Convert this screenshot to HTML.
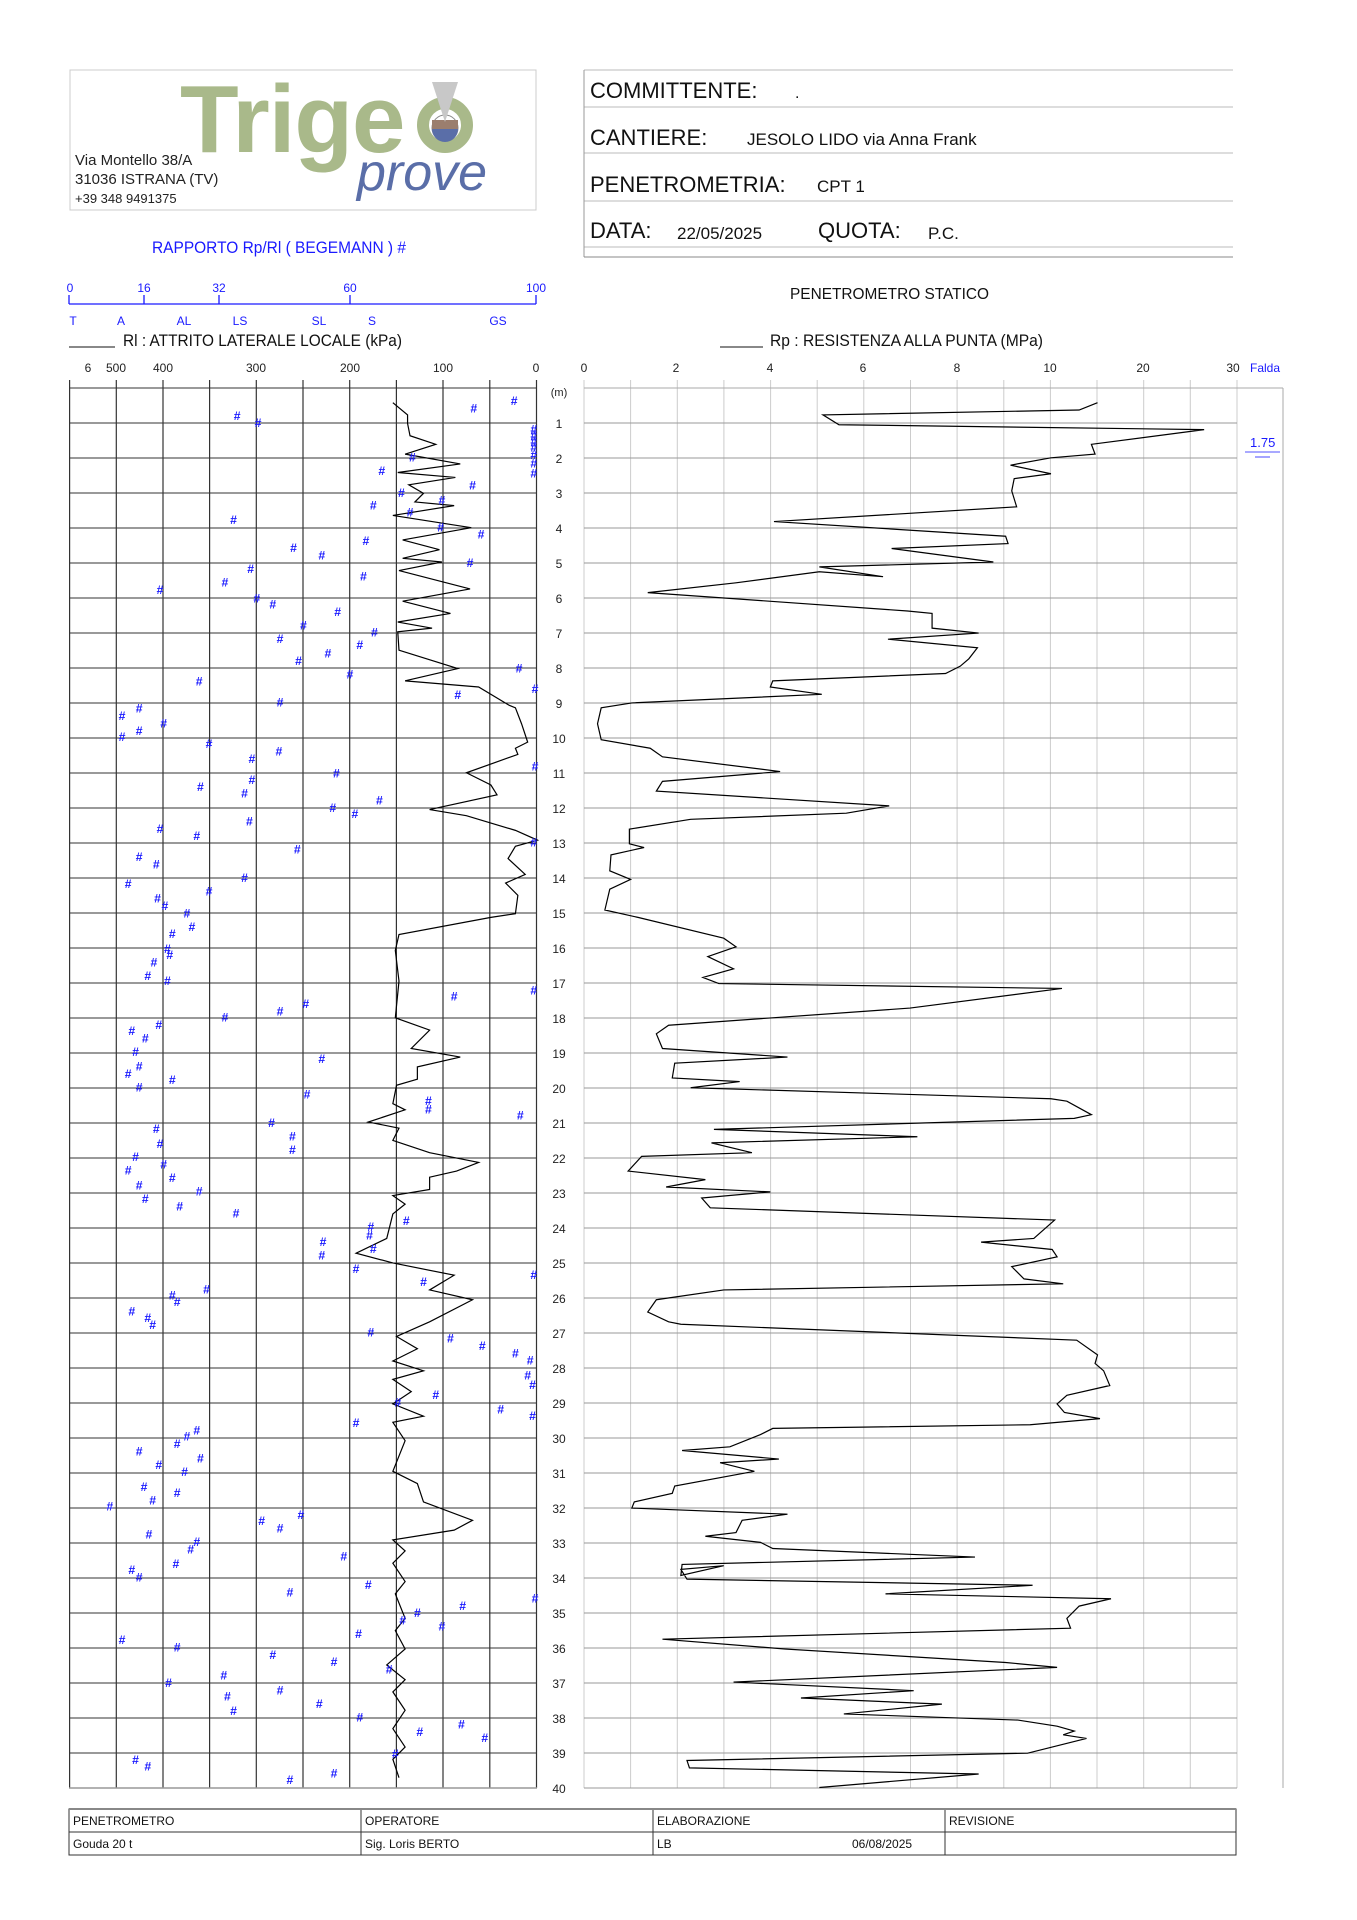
<!DOCTYPE html>
<html><head><meta charset="utf-8"><style>
html,body{margin:0;padding:0;background:#fff;}
svg{display:block;}
text{font-family:"Liberation Sans Narrow","Liberation Sans",sans-serif;}
.n{font-size:12px;fill:#222;}
.b{fill:#1a1aff;}
.h{font-family:"Liberation Sans",sans-serif;font-size:10px;fill:#1a1aff;font-weight:bold;}
</style></head><body>
<svg width="1357" height="1920" viewBox="0 0 1357 1920" xmlns="http://www.w3.org/2000/svg">
<!-- logo box -->
<rect x="70" y="70" width="466" height="140" fill="none" stroke="#ccc" stroke-width="1"/>
<text x="180" y="152" style="font-family:'Liberation Sans',sans-serif;font-weight:bold;font-size:96px;fill:#a9b98a;letter-spacing:-1px">Trige</text>
<circle cx="445" cy="125" r="22" fill="none" stroke="#a9b98a" stroke-width="12"/>
<circle cx="445" cy="128" r="13" fill="#fff" stroke="#888" stroke-width="1"/>
<path d="M432,129 A13,13 0 0 0 458,129 Z" fill="#5a6ea8"/>
<rect x="432" y="120" width="26" height="9" fill="#9b7e6e"/>
<polygon points="432,82 458,82 445,122" fill="#c8c8c8"/>
<text x="357" y="190" style="font-family:'Liberation Sans',sans-serif;font-style:italic;font-size:52px;fill:#5a6ea8">prove</text>
<text x="75" y="165" style="font-family:'Liberation Sans',sans-serif;font-size:15px;fill:#222">Via Montello 38/A</text>
<text x="75" y="184" style="font-family:'Liberation Sans',sans-serif;font-size:15px;fill:#222">31036 ISTRANA (TV)</text>
<text x="75" y="203" style="font-family:'Liberation Sans',sans-serif;font-size:13px;fill:#222">+39 348 9491375</text>

<!-- header box right -->
<g stroke="#bbb" stroke-width="1">
<line x1="584" y1="70" x2="1233" y2="70"/>
<line x1="584" y1="107" x2="1233" y2="107"/>
<line x1="584" y1="153" x2="1233" y2="153"/>
<line x1="584" y1="201" x2="1233" y2="201"/>
<line x1="584" y1="247" x2="1233" y2="247"/>
</g>
<line x1="584" y1="70" x2="584" y2="257" stroke="#999"/>
<line x1="584" y1="257" x2="1233" y2="257" stroke="#888"/>
<g style="font-family:'Liberation Sans',sans-serif;fill:#111">
<text x="590" y="98" font-size="22">COMMITTENTE:</text>
<text x="795" y="98" font-size="16">.</text>
<text x="590" y="145" font-size="22">CANTIERE:</text>
<text x="747" y="145" font-size="17">JESOLO LIDO via Anna Frank</text>
<text x="590" y="192" font-size="22">PENETROMETRIA:</text>
<text x="817" y="192" font-size="17">CPT 1</text>
<text x="590" y="238" font-size="22">DATA:</text>
<text x="677" y="239" font-size="17">22/05/2025</text>
<text x="818" y="238" font-size="22">QUOTA:</text>
<text x="928" y="239" font-size="17">P.C.</text>
</g>

<!-- titles -->
<text x="152" y="253" font-size="17" class="b" textLength="254" lengthAdjust="spacingAndGlyphs">RAPPORTO Rp/Rl ( BEGEMANN ) #</text>
<text x="790" y="299" font-size="16" fill="#111" textLength="199" lengthAdjust="spacingAndGlyphs">PENETROMETRO STATICO</text>
<line x1="69" y1="347" x2="115" y2="347" stroke="#111"/>
<text x="123" y="346" font-size="17" fill="#111" textLength="279" lengthAdjust="spacingAndGlyphs">Rl : ATTRITO LATERALE LOCALE (kPa)</text>
<line x1="720" y1="347" x2="763" y2="347" stroke="#111"/>
<text x="770" y="346" font-size="17" fill="#111" textLength="273" lengthAdjust="spacingAndGlyphs">Rp : RESISTENZA ALLA PUNTA (MPa)</text>

<!-- begemann scale -->
<g stroke="#1a1aff" stroke-width="1.3">
<line x1="69" y1="304" x2="536" y2="304"/>
<line x1="69" y1="295" x2="69" y2="304"/><line x1="144" y1="295" x2="144" y2="304"/>
<line x1="219" y1="295" x2="219" y2="304"/><line x1="350" y1="295" x2="350" y2="304"/>
<line x1="536" y1="295" x2="536" y2="304"/>
</g>
<g font-size="12" class="b" text-anchor="middle">
<text x="70" y="292">0</text><text x="144" y="292">16</text><text x="219" y="292">32</text><text x="350" y="292">60</text><text x="536" y="292">100</text>
<text x="73" y="325">T</text><text x="121" y="325">A</text><text x="184" y="325">AL</text><text x="240" y="325">LS</text><text x="319" y="325">SL</text><text x="372" y="325">S</text><text x="498" y="325">GS</text>
</g>

<!-- axis labels -->
<g class="n" text-anchor="middle">
<text x="88" y="372">6</text><text x="116" y="372">500</text><text x="163" y="372">400</text><text x="256" y="372">300</text><text x="350" y="372">200</text><text x="443" y="372">100</text><text x="536" y="372">0</text>
<text x="584" y="372">0</text><text x="676" y="372">2</text><text x="770" y="372">4</text><text x="863" y="372">6</text><text x="957" y="372">8</text><text x="1050" y="372">10</text><text x="1143" y="372">20</text><text x="1233" y="372">30</text>
</g>
<text x="1250" y="372" font-size="12" class="b">Falda</text>
<text x="1250" y="447" font-size="13" class="b">1.75</text>
<line x1="1245" y1="452" x2="1280" y2="452" stroke="#1a1aff" stroke-width="0.8"/>
<line x1="1255" y1="457" x2="1270" y2="457" stroke="#1a1aff" stroke-width="0.8"/>

<!-- grids -->
<g id="grid">
<g stroke="#333" stroke-width="1.2">
<line x1="69.6" y1="380" x2="69.6" y2="1788"/><line x1="116.3" y1="380" x2="116.3" y2="1788"/><line x1="163" y1="380" x2="163" y2="1788"/><line x1="209.6" y1="380" x2="209.6" y2="1788"/><line x1="256.3" y1="380" x2="256.3" y2="1788"/><line x1="303" y1="380" x2="303" y2="1788"/><line x1="349.7" y1="380" x2="349.7" y2="1788"/><line x1="396.4" y1="380" x2="396.4" y2="1788"/><line x1="443" y1="380" x2="443" y2="1788"/><line x1="489.8" y1="380" x2="489.8" y2="1788"/><line x1="536.5" y1="380" x2="536.5" y2="1788"/>
</g>
<g stroke="#ccc" stroke-width="1">
<line x1="584" y1="380" x2="584" y2="1788"/><line x1="630.6" y1="380" x2="630.6" y2="1788"/><line x1="677.3" y1="380" x2="677.3" y2="1788"/><line x1="723.9" y1="380" x2="723.9" y2="1788"/><line x1="770.6" y1="380" x2="770.6" y2="1788"/><line x1="817.2" y1="380" x2="817.2" y2="1788"/><line x1="863.8" y1="380" x2="863.8" y2="1788"/><line x1="910.5" y1="380" x2="910.5" y2="1788"/><line x1="957.1" y1="380" x2="957.1" y2="1788"/><line x1="1003.8" y1="380" x2="1003.8" y2="1788"/><line x1="1050.4" y1="380" x2="1050.4" y2="1788"/><line x1="1097" y1="380" x2="1097" y2="1788"/><line x1="1143.7" y1="380" x2="1143.7" y2="1788"/><line x1="1190.3" y1="380" x2="1190.3" y2="1788"/><line x1="1237" y1="380" x2="1237" y2="1788"/>
</g>
<line x1="1283" y1="388" x2="1283" y2="1788" stroke="#aaa"/>
<line x1="1237" y1="388" x2="1283" y2="388" stroke="#aaa"/>
</g>
<g id="hl"></g>
<line x1="69" y1="1788" x2="537" y2="1788" stroke="#999" stroke-width="1.5"/>

<!-- depth labels -->
<g class="n" text-anchor="middle" id="dl">
<text x="559" y="396" font-size="11">(m)</text>
</g>

<!-- data (drawn in overview coords) -->
<g transform="translate(0.7,0.7) scale(1.2255)">
<polyline fill="none" stroke="#000" stroke-width="1.2" vector-effect="non-scaling-stroke" points="895,328 880,334 671,338 684,346 982,350 890,362 893,370 857,373 824,379 857,386 827,390 825,400 829,413 631,425 820,437 822,443 727,447 810,458 668,462 720,470 668,466 600,475 528,483 740,498 760,500 760,512 798,516 724,521 797,528 790,537 783,543 771,549 630,555 628,560 670,566 515,573 490,577 487,590 490,603 530,610 540,617 636,629 540,637 535,645 725,657 690,663 563,668 513,676 513,688 525,691 498,697 497,710 514,717 497,725 493,742 520,748 590,765 600,772 577,780 598,790 573,797 586,802 866,806 742,822 545,836 535,843 540,855 642,862 550,867 548,879 603,882 563,887 857,896 870,898 890,909 876,912 582,921 748,927 580,932 613,940 523,943 512,955 575,962 543,968 628,972 572,977 579,985 860,995 843,1010 800,1013 858,1019 862,1025 825,1033 835,1043 867,1047 590,1052 535,1060 528,1070 545,1078 555,1080 878,1093 895,1105 893,1112 900,1118 905,1130 870,1138 862,1145 868,1152 897,1157 840,1162 630,1165 620,1170 595,1180 556,1183 635,1190 587,1193 615,1200 550,1212 548,1218 517,1225 515,1230 642,1235 605,1240 600,1250 575,1253 620,1258 630,1263 795,1270 556,1276 555,1285 590,1277 555,1280 560,1288 842,1293 722,1300 906,1304 880,1310 870,1320 873,1328 540,1337 640,1345 820,1356 862,1360 598,1372 745,1379 653,1385 768,1390 688,1398 830,1403 862,1408 876,1412 867,1415 886,1418 838,1430 560,1436 562,1442 798,1447 668,1458"/>
<polyline fill="none" stroke="#000" stroke-width="1.2" vector-effect="non-scaling-stroke" points="320,328 332,338 332,345 334,355 355,362 330,370 375,378 324,385 371,389 333,395 345,402 338,409 370,412 320,420 384,430 328,440 358,448 328,455 360,458 325,465 383,480 328,490 367,500 324,507 352,512 324,515 325,530 373,545 330,555 390,560 415,575 420,577 425,590 430,605 420,610 422,615 380,630 400,640 405,648 350,660 380,665 420,677 438,685 420,690 414,700 428,713 412,720 422,730 420,745 400,748 325,762 322,775 325,800 322,830 350,840 335,855 375,862 340,870 340,880 323,885 320,900 330,905 300,915 325,920 320,930 350,940 390,948 372,955 350,960 350,970 320,975 330,982 320,990 315,1010 290,1022 320,1030 370,1040 350,1052 385,1060 350,1078 323,1090 340,1100 320,1110 345,1118 320,1125 335,1135 320,1145 345,1155 320,1160 330,1175 320,1200 340,1210 345,1225 385,1240 370,1248 320,1256 330,1265 320,1275 330,1290 322,1300 330,1320 322,1330 330,1345 315,1358 330,1370 320,1380 330,1395 320,1410 330,1425 320,1435 325,1450"/>
<g class="h" text-anchor="middle" id="hs"></g>
</g>

<!-- bottom table -->
<g stroke="#333" stroke-width="1" fill="none">
<rect x="69" y="1809" width="1167" height="46"/>
<line x1="69" y1="1832" x2="1236" y2="1832"/>
<line x1="361" y1="1809" x2="361" y2="1855"/><line x1="653" y1="1809" x2="653" y2="1855"/><line x1="945" y1="1809" x2="945" y2="1855"/>
</g>
<line x1="69" y1="1809" x2="1236" y2="1809" stroke="#888" stroke-width="2"/>
<g font-size="12" fill="#111">
<text x="73" y="1825">PENETROMETRO</text><text x="365" y="1825">OPERATORE</text><text x="657" y="1825">ELABORAZIONE</text><text x="949" y="1825">REVISIONE</text>
<text x="73" y="1848">Gouda 20 t</text><text x="365" y="1848">Sig. Loris BERTO</text><text x="657" y="1848">LB</text><text x="852" y="1848">06/08/2025</text>
</g>
</svg>
<script>
(function(){
var ns="http://www.w3.org/2000/svg";
var hl=document.getElementById('hl'),dl=document.getElementById('dl');
for(var d=0;d<=40;d++){
 var y=388+35*d;
 var l=document.createElementNS(ns,'line');
 l.setAttribute('x1',69);l.setAttribute('x2',537);l.setAttribute('y1',y);l.setAttribute('y2',y);
 l.setAttribute('stroke','#333');hl.appendChild(l);
 var r=document.createElementNS(ns,'line');
 r.setAttribute('x1',584);r.setAttribute('x2',1237);r.setAttribute('y1',y);r.setAttribute('y2',y);
 r.setAttribute('stroke',d==0?'#aaa':'#999');hl.appendChild(r);
 if(d>0){var t=document.createElementNS(ns,'text');t.setAttribute('x',559);t.setAttribute('y',y+5);t.textContent=d;dl.appendChild(t);}
}
var P=[419,327,386,333,193,339,210,345,435,350,435,355,435,360,435,365,435,371,435,378,435,386,336,373,311,384,385,396,327,402,360,408,304,412,334,418,190,424,392,436,298,441,359,430,239,447,262,453,383,459,204,464,296,470,183,475,130,481,209,488,222,493,275,499,247,510,305,516,228,521,293,526,267,533,243,539,423,545,285,550,162,556,436,562,373,567,228,573,113,578,99,584,133,590,113,596,99,601,170,607,227,613,205,619,436,625,274,631,205,636,163,642,199,647,309,653,271,659,289,664,203,670,130,676,160,682,435,687,242,693,113,699,127,705,199,716,104,721,170,727,128,733,152,745,134,739,156,756,140,762,136,774,138,779,125,785,120,796,136,800,435,808,370,813,249,819,228,825,183,830,129,836,107,841,118,847,110,858,262,864,113,870,104,876,140,881,113,887,250,893,349,898,349,905,424,910,221,916,127,921,238,927,130,933,238,938,110,944,133,950,104,955,140,961,113,967,162,972,118,978,146,984,192,990,331,996,302,1001,301,1008,304,1019,263,1013,262,1024,290,1035,345,1046,435,1040,168,1052,140,1057,144,1062,107,1070,120,1075,124,1081,302,1087,367,1092,393,1098,420,1104,432,1110,430,1122,434,1130,355,1138,324,1144,408,1150,434,1155,290,1161,160,1167,152,1172,144,1178,113,1184,163,1190,129,1195,150,1201,117,1213,144,1218,124,1224,89,1229,245,1236,213,1241,228,1247,121,1252,160,1258,155,1264,280,1270,143,1276,107,1281,113,1287,300,1293,436,1304,236,1299,377,1310,340,1316,328,1322,360,1327,292,1333,99,1338,144,1344,222,1350,272,1356,317,1362,182,1367,137,1373,228,1379,185,1384,260,1390,190,1396,293,1401,376,1407,342,1413,395,1418,322,1431,110,1436,120,1441,272,1447,236,1452];
var hs=document.getElementById('hs');
for(var i=0;i<P.length;i+=2){var t=document.createElementNS(ns,'text');t.setAttribute('x',P[i]);t.setAttribute('y',P[i+1]+3);t.textContent='#';hs.appendChild(t);}
})();
</script>
</body></html>
